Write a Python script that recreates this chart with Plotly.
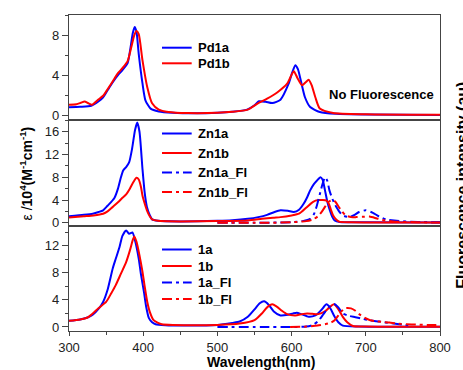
import plotly.graph_objects as go
from plotly.subplots import make_subplots

# ---------------- data ----------------
pd1a_x = [300, 315, 330, 340, 346, 352, 359, 366, 372, 379, 383, 386, 388.5, 391, 394, 399, 403, 410, 421, 440, 470, 500, 520, 540, 550, 556, 565, 574, 585, 596, 601, 605, 608.5, 612, 618, 625, 638, 660, 700, 800]
pd1a_y = [0.8, 0.85, 0.95, 1.4, 1.8, 2.5, 3.3, 4.0, 4.5, 5.2, 6.8, 8.2, 8.8, 8.3, 6.1, 3.2, 1.5, 0.67, 0.38, 0.25, 0.2, 0.25, 0.35, 0.57, 1.0, 1.4, 1.35, 1.22, 1.56, 3.15, 4.3, 5.0, 4.6, 3.6, 1.8, 0.83, 0.33, 0.15, 0.08, 0.03]

pd1b_x = [300, 310, 316, 321, 326, 331, 340, 346, 352, 359, 366, 372, 379, 384, 388, 391, 394, 399, 405.5, 412, 421, 434, 460, 500, 520, 541, 554, 567, 581, 594, 599, 603, 608, 614, 619, 623, 627, 632, 638, 656, 700, 800]
pd1b_y = [1.05, 1.1, 1.25, 1.38, 1.2, 1.05, 1.6, 1.95, 2.6, 3.4, 4.2, 4.7, 5.4, 6.8, 8.0, 8.4, 8.1, 5.5, 2.8, 1.2, 0.57, 0.33, 0.22, 0.25, 0.35, 0.57, 1.16, 1.66, 2.3, 3.15, 3.9, 4.4, 3.7, 3.0, 3.3, 3.55, 3.0, 1.8, 0.67, 0.23, 0.1, 0.05]

zn1a_x = [300, 320, 332, 340, 346, 352, 361, 366, 370, 373, 377, 381, 385, 389, 392, 395, 399, 402, 405, 409, 412, 420, 450, 500, 520, 541, 555, 567, 577, 585, 595, 603, 610, 616, 621, 625, 630, 634, 639, 642, 645, 648, 651.5, 655, 658, 665, 700, 800]
zn1a_y = [1.15, 1.4, 1.6, 1.9, 2.2, 3.0, 4.3, 6.0, 8.0, 9.2, 9.8, 10.6, 13.0, 16.3, 17.6, 16.0, 9.5, 5.3, 2.8, 1.3, 0.6, 0.35, 0.25, 0.35, 0.45, 0.7, 1.0, 1.4, 1.9, 2.2, 2.1, 1.9, 2.3, 3.3, 4.5, 5.7, 6.8, 7.4, 8.0, 7.5, 5.7, 3.8, 2.2, 1.0, 0.4, 0.15, 0.1, 0.05]

zn1b_x = [300, 320, 333, 346, 352, 359, 366, 372, 377, 382, 387, 391, 394, 397, 399, 402, 405, 409, 412, 420, 450, 500, 541, 560, 575, 585, 600, 610, 620, 629, 636, 642, 647, 650, 653, 656, 660, 664, 680, 800]
zn1b_y = [0.93, 1.15, 1.3, 1.6, 2.0, 2.8, 3.6, 4.4, 5.0, 6.0, 7.2, 7.9, 7.6, 6.3, 4.8, 3.4, 2.2, 1.1, 0.6, 0.35, 0.25, 0.3, 0.4, 0.7, 0.9, 1.0, 1.3, 1.6, 2.7, 3.7, 4.0, 4.0, 3.9, 3.4, 2.3, 1.3, 0.6, 0.2, 0.1, 0.05]

zn1a_fl_x = [500, 550, 580, 600, 615, 625, 630, 634, 638, 641, 645, 648, 651, 655, 658, 664, 669, 678, 685, 691, 700, 709, 718, 727, 745, 770, 800]
zn1a_fl_y = [0.0, 0.0, 0.05, 0.1, 0.3, 0.7, 1.5, 3.0, 5.0, 6.5, 8.0, 7.4, 5.7, 4.2, 3.3, 2.0, 1.3, 1.0, 1.4, 1.9, 2.2, 1.8, 1.1, 0.6, 0.3, 0.15, 0.1]

zn1b_fl_x = [500, 560, 600, 620, 629, 636, 641, 645, 649, 655, 659, 663, 668, 673, 680, 687, 695, 705, 714, 722, 740, 770, 800]
zn1b_fl_y = [0.0, 0.0, 0.1, 0.3, 0.6, 1.2, 2.0, 2.8, 3.6, 4.0, 3.7, 2.9, 2.0, 1.3, 1.0, 1.0, 1.05, 1.1, 0.8, 0.5, 0.2, 0.1, 0.05]

a1_x = [300, 315, 325, 332, 340, 346, 352, 359, 363, 368, 372, 377, 381, 385.5, 389, 394, 397, 401, 404, 407.7, 412, 416.6, 430, 460, 500, 520, 530, 541, 550, 557, 563, 569, 576, 585, 595, 602, 607, 613, 623, 632, 640, 647, 652, 658, 663, 669, 690, 800]
a1_y = [0.9, 1.1, 1.4, 1.8, 2.7, 3.7, 5.5, 8.7, 10.1, 11.8, 13.5, 14.3, 13.8, 14.0, 12.8, 10.1, 7.8, 5.2, 3.0, 1.3, 0.7, 0.4, 0.25, 0.2, 0.3, 0.6, 0.8, 1.5, 2.6, 3.5, 3.8, 3.3, 2.3, 1.7, 1.8, 2.0, 2.1, 1.9, 1.5, 1.7, 2.5, 3.35, 2.8, 1.5, 0.7, 0.2, 0.05, 0.02]

b1_x = [300, 315, 325, 332, 340, 350, 357, 363, 370, 377, 382, 386, 388, 391, 395, 399, 402, 405.5, 409, 414, 420, 425, 440, 500, 530, 550, 560, 567, 574, 580, 587, 594, 605, 614, 621, 628, 636, 645, 651, 657, 662, 669, 675, 682.6, 700, 800]
b1_y = [0.9, 1.1, 1.4, 2.0, 2.8, 3.7, 5.0, 6.2, 7.9, 9.6, 11.3, 12.9, 13.4, 12.6, 10.6, 8.2, 6.0, 3.7, 2.2, 1.0, 0.6, 0.4, 0.3, 0.3, 0.5, 1.0, 2.0, 2.9, 3.35, 3.0, 2.4, 1.9, 1.7, 1.9, 2.0, 1.95, 1.9, 2.3, 2.9, 3.35, 2.8, 1.5, 0.7, 0.15, 0.05, 0.02]

a1_fl_x = [500, 560, 600, 620, 629, 636, 643, 650, 657, 663, 669, 677, 686, 696, 706, 718, 735, 750, 760]
a1_fl_y = [0.0, 0.0, 0.0, 0.05, 0.3, 0.9, 1.9, 2.9, 3.4, 2.9, 2.0, 1.65, 1.45, 1.2, 0.95, 0.8, 0.55, 0.35, 0.2]

b1_fl_x = [598, 620, 635, 645, 652, 658, 663, 667, 673, 680, 686, 691, 698, 706, 714, 722, 732, 742, 755, 770, 785, 800]
b1_fl_y = [0.0, 0.05, 0.2, 0.4, 0.6, 1.0, 1.7, 2.3, 2.8, 2.75, 2.4, 1.9, 1.4, 1.0, 0.85, 0.75, 0.65, 0.5, 0.4, 0.35, 0.3, 0.3]

x_ticks = [300, 400, 500, 600, 700, 800]
y_ticks_top = [0, 4, 8]
y_ticks_mid = [0, 4, 8, 12, 16]
y_ticks_bot = [0, 4, 8, 12]

BLUE = "#0000ff"
RED = "#ff0000"
DASHDOT = "10px,4px,3px,4px"
FONT = "Liberation Sans, Arial, sans-serif"

panels = [
    (1, [("Pd1a", pd1a_x, pd1a_y, BLUE, "solid"),
         ("Pd1b", pd1b_x, pd1b_y, RED, "solid")], [-0.5, 10], y_ticks_top),
    (2, [("Zn1a", zn1a_x, zn1a_y, BLUE, "solid"),
         ("Zn1b", zn1b_x, zn1b_y, RED, "solid"),
         ("Zn1a_Fl", zn1a_fl_x, zn1a_fl_y, BLUE, DASHDOT),
         ("Zn1b_Fl", zn1b_fl_x, zn1b_fl_y, RED, DASHDOT)], [-0.5, 18], y_ticks_mid),
    (3, [("1a", a1_x, a1_y, BLUE, "solid"),
         ("1b", b1_x, b1_y, RED, "solid"),
         ("1a_Fl", a1_fl_x, a1_fl_y, BLUE, DASHDOT),
         ("1b_Fl", b1_fl_x, b1_fl_y, RED, DASHDOT)], [-0.6, 15], y_ticks_bot),
]

W, H = 463, 370
ML, MR, MT, MB = 69, 19, 15, 39
PW, PH = W - ML - MR, H - MT - MB


def px(xp):
    return (xp - ML) / PW


def py(yp):
    return 1 - (yp - MT) / PH


fig = make_subplots(rows=3, cols=1, shared_xaxes=True, vertical_spacing=0)

legend_rows = {1: [47.7, 63.3], 2: [133.5, 153.0, 172.5, 192.0], 3: [249.5, 266.0, 282.5, 299.0]}

shapes = []
annotations = []
for row, series, yr, yt in panels:
    for i, (name, xs, ys, col, dash) in enumerate(series):
        fig.add_trace(go.Scatter(x=xs, y=ys, mode="lines", name=name,
                                 line=dict(color=col, width=2, dash=dash, shape="spline", smoothing=0.6),
                                 showlegend=False), row=row, col=1)
        yy = py(legend_rows[row][i])
        shapes.append(dict(type="line", xref="paper", yref="paper", x0=px(163), x1=px(193), y0=yy, y1=yy,
                           line=dict(color=col, width=2, dash=dash)))
        annotations.append(dict(text="<b>%s</b>" % name, xref="paper", yref="paper", x=px(197), y=yy,
                                xanchor="left", yanchor="middle", showarrow=False,
                                font=dict(family=FONT, size=13, color="#000")))
    fig.update_yaxes(range=yr, tickvals=yt, ticks="outside", ticklen=6, tickwidth=1, tickcolor="#444",
                     minor=dict(dtick=2, ticks="outside", ticklen=3, tickcolor="#444", tick0=0),
                     showgrid=False, zeroline=False, showline=True, mirror=True, linecolor="#444", linewidth=1.3,
                     tickfont=dict(family=FONT, size=13, color="#222"), row=row, col=1)

for row in (1, 2, 3):
    fig.update_xaxes(range=[300, 800], showgrid=False, zeroline=False, showline=True, mirror=True,
                     linecolor="#444", linewidth=1.3, row=row, col=1)
fig.update_xaxes(tickvals=x_ticks, ticks="outside", ticklen=4, tickcolor="#444",
                 minor=dict(dtick=50, tick0=300, ticks="outside", ticklen=3, tickcolor="#444"),
                 tickfont=dict(family=FONT, size=13, color="#222"), row=3, col=1)

annotations += [
    dict(text="<b>No Fluorescence</b>", xref="paper", yref="paper", x=px(385), y=py(94.3),
         xanchor="center", yanchor="middle", showarrow=False, font=dict(family=FONT, size=13, color="#000")),
    dict(text="<b>Wavelength(nm)</b>", xref="paper", yref="paper", x=px(263), y=py(361.5),
         xanchor="center", yanchor="middle", showarrow=False, font=dict(family=FONT, size=14, color="#000")),
    dict(text="ε /<b>10<sup>4</sup>(M<sup>-1</sup>cm<sup>-1</sup>)</b>", xref="paper", yref="paper",
         x=px(26), y=py(173), textangle=-90, xanchor="center", yanchor="middle", showarrow=False,
         font=dict(family=FONT, size=14, color="#000")),
    dict(text="<b>Fluorescence intensity (au)</b>", xref="paper", yref="paper",
         x=px(466), y=py(185), textangle=-90, xanchor="center", yanchor="middle", showarrow=False,
         font=dict(family=FONT, size=16, color="#000")),
]

fig.update_layout(width=W, height=H, margin=dict(l=ML, r=MR, t=MT, b=MB),
                  paper_bgcolor="white", plot_bgcolor="white", showlegend=False,
                  shapes=shapes, annotations=annotations, font=dict(family=FONT))

fig.write_html("out.html", config={"displayModeBar": False},
               post_script="document.body.style.margin='0';document.body.style.padding='0';")
